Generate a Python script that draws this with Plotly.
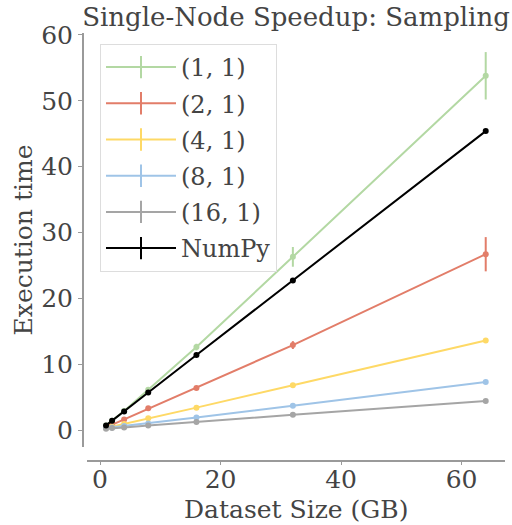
import plotly.graph_objects as go

sizes = [1, 2, 4, 8, 16, 32, 64]
series_names = ["(1, 1)", "(2, 1)", "(4, 1)", "(8, 1)", "(16, 1)", "NumPy"]
t_1_1 = [0.7, 1.4, 2.9, 6.1, 12.6, 26.3, 53.8]
e_1_1 = [0.05, 0.1, 0.2, 0.3, 0.5, 1.5, 3.6]
t_2_1 = [0.4, 0.8, 1.6, 3.3, 6.4, 12.9, 26.7]
e_2_1 = [0.03, 0.05, 0.1, 0.15, 0.25, 0.6, 2.6]
t_4_1 = [0.3, 0.5, 0.9, 1.8, 3.4, 6.8, 13.6]
e_4_1 = [0.02, 0.03, 0.05, 0.08, 0.1, 0.15, 0.2]
t_8_1 = [0.3, 0.4, 0.6, 1.0, 1.9, 3.7, 7.3]
e_8_1 = [0.02, 0.02, 0.03, 0.05, 0.08, 0.1, 0.15]
t_16_1 = [0.2, 0.3, 0.4, 0.7, 1.2, 2.3, 4.4]
e_16_1 = [0.02, 0.02, 0.03, 0.04, 0.05, 0.08, 0.1]
t_numpy = [0.7, 1.4, 2.8, 5.7, 11.4, 22.7, 45.4]
e_numpy = [0.02, 0.03, 0.05, 0.08, 0.1, 0.15, 0.2]

values = [t_1_1, t_2_1, t_4_1, t_8_1, t_16_1, t_numpy]
errors = [e_1_1, e_2_1, e_4_1, e_8_1, e_16_1, e_numpy]
colors = ["#b3d8a3", "#e27d69", "#fed966", "#9fc4e7", "#a5a5a5", "#000000"]

W, H = 512, 525
FONT = "DejaVu Serif"
TXT = "#444444"
SPINE = "#9a9a9a"
FS = 25

fig = go.Figure()
for name, y, e, c in zip(series_names, values, errors, colors):
    fig.add_trace(go.Scatter(
        x=sizes, y=y, mode="lines+markers", name=name, showlegend=False,
        line=dict(color=c, width=2), marker=dict(color=c, size=6),
        error_y=dict(type="data", array=e, color=c, thickness=2, width=0),
    ))
for name, c in zip(series_names, colors):
    fig.add_trace(go.Scatter(
        x=[None], y=[None], mode="lines+markers", name=name, legendgroup=name,
        line=dict(color=c, width=2),
        marker=dict(color=c, size=16, symbol="line-ns-open", line=dict(color=c, width=2)),
    ))

x0, x1 = 87 / W, 505 / W
yb, yt = (H - 447) / H, (H - 33) / H

fig.update_layout(
    width=W, height=H,
    margin=dict(l=0, r=0, t=0, b=0, autoexpand=False),
    paper_bgcolor="white", plot_bgcolor="white",
    font=dict(family=FONT, size=FS, color=TXT),
    title=dict(text="Single-Node Speedup: Sampling", x=296 / W, xanchor="center",
               y=(H - 17) / H, yanchor="middle", font=dict(family=FONT, size=26, color=TXT)),
    xaxis=dict(domain=[x0, x1], range=[-2.16, 67.2], anchor="free", position=(H - 460.7) / H,
               automargin=False,
               showline=True, linecolor=SPINE, linewidth=1.5, showgrid=False, zeroline=False,
               ticks="outside", ticklen=4, tickcolor=SPINE, tickwidth=1.2, ticklabelstandoff=-7,
               tickvals=[0, 20, 40, 60], tickfont=dict(family=FONT, size=FS, color=TXT)),
    yaxis=dict(domain=[yb, yt], range=[-2.58, 60.3], anchor="free", position=82.7 / W,
               automargin=False,
               showline=True, linecolor=SPINE, linewidth=1.5, showgrid=False, zeroline=False,
               ticks="outside", ticklen=4, tickcolor=SPINE, tickwidth=1.2,
               tickvals=[0, 10, 20, 30, 40, 50, 60], tickfont=dict(family=FONT, size=FS, color=TXT),
               title=dict(text="Execution time", standoff=0, font=dict(family=FONT, size=FS, color=TXT))),
    legend=dict(x=100 / W, y=(H - 44) / H, xanchor="left", yanchor="top",
                bgcolor="white", bordercolor="#dddddd", borderwidth=1,
                font=dict(family=FONT, size=24, color=TXT), itemwidth=70,
                tracegroupgap=2),
    annotations=[dict(text="Dataset Size (GB)", xref="paper", yref="paper",
                      x=296 / W, y=(H - 509) / H, xanchor="center", yanchor="middle",
                      showarrow=False, font=dict(family=FONT, size=FS, color=TXT))],
)

fig.write_html("out.html", config={"displayModeBar": False},
               post_script="document.body.style.margin='0';document.body.style.overflow='hidden';")
